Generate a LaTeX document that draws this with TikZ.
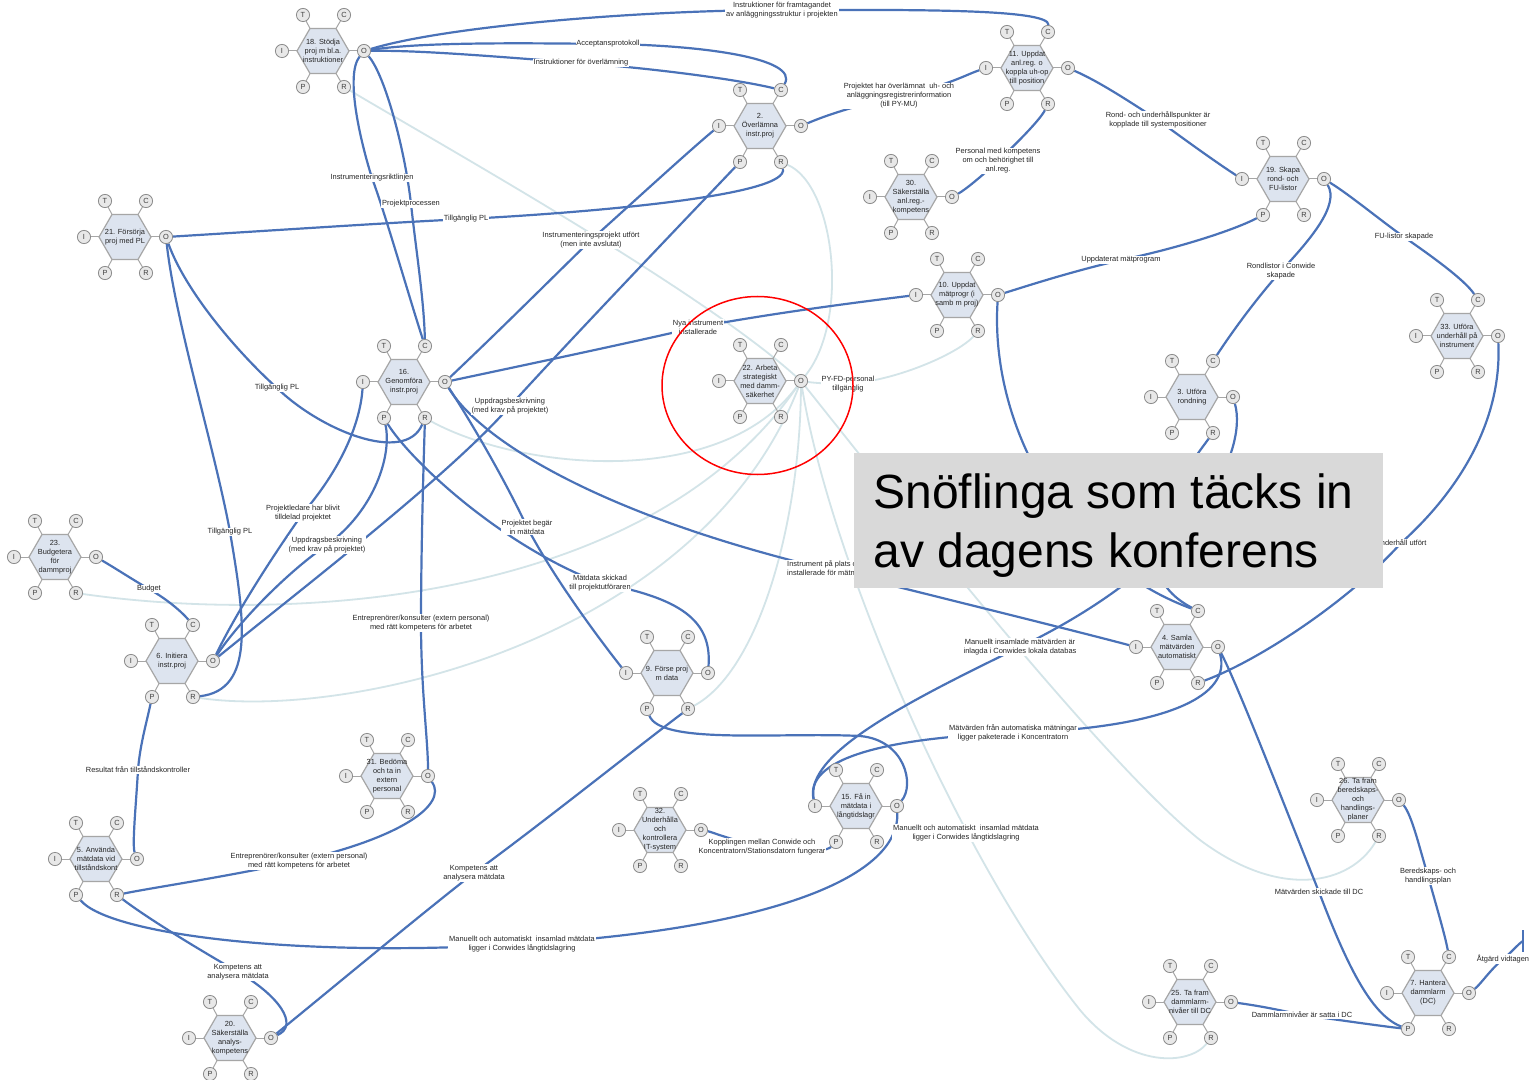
\documentclass[tikz,border=0pt]{standalone}
\usepackage{fontspec}
\setmainfont{Liberation Sans}
\usetikzlibrary{calc}

\definecolor{linkblue}{HTML}{4A72B8}
\definecolor{faintcol}{HTML}{D3E4E8}
\definecolor{hexfill}{HTML}{DDE4EF}
\definecolor{hexdraw}{HTML}{A6A6A6}
\definecolor{aspfill}{HTML}{E8E8E8}
\definecolor{aspdraw}{HTML}{8C8C8C}
\definecolor{txt}{HTML}{262626}
\definecolor{boxgray}{HTML}{D9D9D9}

\pgfdeclarelayer{paper}
\pgfdeclarelayer{faint}
\pgfdeclarelayer{links}
\pgfdeclarelayer{top}
\pgfsetlayers{paper,faint,links,main,top}

\tikzset{
  hexline/.style={draw=hexdraw, fill=hexfill, line width=0.6pt, line join=round},
  hextext/.style={font=\fontsize{3.7}{4.5}\selectfont, align=center, text=txt, inner sep=0pt},
  asp/.style={circle, draw=aspdraw, fill=aspfill, line width=0.4pt, minimum size=6.6pt,
              inner sep=0pt, font=\fontsize{3.7}{4}\selectfont, text=black!75},
  stub/.style={draw=hexdraw, line width=0.5pt},
  lab/.style={font=\fontsize{3.73}{4.5}\selectfont, align=center, text=txt, fill=white, inner sep=0.4pt},
  link/.style={draw=linkblue, line width=1.1pt},
  faintline/.style={draw=faintcol, line width=0.9pt},
  bigtext/.style={anchor=base west, inner sep=0pt, font=\fontsize{24}{29}\selectfont, text=black},
}

% one process: hexagon with its six aspect circles T, C, I, O, P, R
\newcommand\flake[4]{%
  \draw[hexline] (#2-26,#3) -- (#2-13,#3-22.5) -- (#2+13,#3-22.5) -- (#2+26,#3)
                 -- (#2+13,#3+22.5) -- (#2-13,#3+22.5) -- cycle;
  \node[hextext] (#1) at (#2,#3) {#4};
  \node[asp] (#1-T) at (#2-20,#3-36) {T};
  \node[asp] (#1-C) at (#2+21,#3-36) {C};
  \node[asp] (#1-I) at (#2-41,#3) {I};
  \node[asp] (#1-O) at (#2+41,#3) {O};
  \node[asp] (#1-P) at (#2-20,#3+36) {P};
  \node[asp] (#1-R) at (#2+21,#3+36) {R};
  \draw[stub] (#2-26,#3) -- (#1-I);
  \draw[stub] (#2+26,#3) -- (#1-O);
  \draw[stub] (#2-13,#3-22.5) -- (#1-T);
  \draw[stub] (#2+13,#3-22.5) -- (#1-C);
  \draw[stub] (#2-13,#3+22.5) -- (#1-P);
  \draw[stub] (#2+13,#3+22.5) -- (#1-R);
}

\begin{document}
\begin{tikzpicture}[x=0.5pt,y=-0.5pt]
\begin{pgfonlayer}{paper}
  \fill[white] (0,0) rectangle (1530,1080);
\end{pgfonlayer}
\useasboundingbox (0,0) rectangle (1530,1080);

% ---------- processes ----------
\flake{n18}{323}{51}{18. Stödja\\proj m bl.a.\\instruktioner}
\flake{n21}{125}{237}{21. Försörja\\proj med PL}
\flake{n2}{760}{126}{2.\\Överlämna\\instr.proj}
\flake{n11}{1027}{68}{11. Uppdat\\anl.reg. o\\koppla uh-op\\till position}
\flake{n30}{911}{197}{30.\\Säkerställa\\anl.reg.-\\kompetens}
\flake{n10}{957}{295}{10. Uppdat\\mätprogr (i\\samb m proj)}
\flake{n19}{1283}{179}{19. Skapa\\rond- och\\FU-listor}
\flake{n33}{1457}{336}{33. Utföra\\underhåll på\\instrument}
\flake{n16}{404}{382}{16.\\Genomföra\\instr.proj}
\flake{n22}{760}{381}{22. Arbeta\\strategiskt\\med damm-\\säkerhet}
\flake{n3}{1192}{397}{3. Utföra\\rondning}
\flake{n23}{55}{557}{23.\\Budgetera\\för\\dammproj}
\flake{n6}{172}{661}{6. Initiera\\instr.proj}
\flake{n9}{667}{673}{9. Förse proj\\m data}
\flake{n4}{1177}{647}{4. Samla\\mätvärden\\automatiskt}
\flake{n31}{387}{776}{31. Bedöma\\och ta in\\extern\\personal}
\flake{n5}{96}{859}{5. Använda\\mätdata vid\\tillståndskont}
\flake{n15}{856}{806}{15. Få in\\mätdata i\\långtidslagr}
\flake{n32}{660}{830}{32.\\Underhålla\\och\\kontrollera\\IT-system}
\flake{n20}{230}{1038}{20.\\Säkerställa\\analys-\\kompetens}
\flake{n26}{1358}{800}{26. Ta fram\\beredskaps-\\och\\handlings-\\planer}
\flake{n25}{1190}{1002}{25. Ta fram\\dammlarm-\\nivåer till DC}
\flake{n7}{1428}{993}{7. Hantera\\dammlarm\\(DC)}

% ---------- flow labels ----------
\node[lab] (l1) at (782,10) {Instruktioner för framtagandet\\av anläggningsstruktur i projekten};
\node[lab] (l2) at (608,44) {Acceptansprotokoll};
\node[lab] (l3) at (581,63) {Instruktioner för överlämning};
\node[lab] (l4) at (372,178) {Instrumenteringsriktlinjen};
\node[lab] (l5) at (411,204) {Projektprocessen};
\node[lab] (l6) at (466,219) {Tillgänglig PL};
\node[lab] (l7) at (899,96) {Projektet har överlämnat\ \ uh- och\\anläggningsregistrerinformation\\(till PY-MU)};
\node[lab] (l8) at (998,161) {Personal med kompetens\\om och behörighet till\\anl.reg.};
\node[lab] (l9) at (1158,120) {Rond- och underhållspunkter är\\kopplade till systempositioner};
\node[lab] (l10) at (1121,260) {Uppdaterat mätprogram};
\node[lab] (l11) at (1404,237) {FU-listor skapade};
\node[lab] (l12) at (1281,271) {Rondlistor i Conwide\\skapade};
\node[lab] (l13) at (591,240) {Instrumenteringsprojekt utfört\\(men inte avslutat)};
\node[lab] (l14) at (698,327) {Nya instrument\\installerade};
\node[lab] (l15) at (510,406) {Uppdragsbeskrivning\\(med krav på projektet)};
\node[lab] (l16) at (848,384) {PY-FD-personal\\tillgänglig};
\node[lab] (l17) at (277,388) {Tillgänglig PL};
\node[lab] (l18) at (230,532) {Tillgänglig PL};
\node[lab] (l19) at (303,513) {Projektledare har blivit\\tilldelad projektet};
\node[lab] (l20) at (327,545) {Uppdragsbeskrivning\\(med krav på projektet)};
\node[lab] (l21) at (149,589) {Budget};
\node[lab] (l22) at (527,527) {Projektet begär\\in mätdata};
\node[lab] (l23) at (600,583) {Mätdata skickad\\till projektutföraren};
\node[lab] (l24) at (421,623) {Entreprenörer/konsulter (extern personal)\\med rätt kompetens för arbetet};
\node[lab] (l25) at (826,569) {Instrument på plats och\\installerade för mätning};
\node[lab] (l26) at (1020,647) {Manuellt insamlade mätvärden är\\inlagda i Conwides lokala databas};
\node[lab] (l27) at (1013,733) {Mätvärden från automatiska mätningar\\ligger paketerade i Koncentratorn};
\node[lab] (l28) at (966,833) {Manuellt och automatiskt\ \ insamlad mätdata\\ligger i Conwides långtidslagring};
\node[lab] (l29) at (138,770) {Resultat från tillståndskontroller};
\node[lab] (l30) at (299,861) {Entreprenörer/konsulter (extern personal)\\med rätt kompetens för arbetet};
\node[lab] (l31) at (238,972) {Kompetens att\\analysera mätdata};
\node[lab] (l32) at (474,873) {Kompetens att\\analysera mätdata};
\node[lab] (l33) at (522,944) {Manuellt och automatiskt\ \ insamlad mätdata\\ligger i Conwides långtidslagring};
\node[lab] (l34) at (762,847) {Kopplingen mellan Conwide och\\Koncentratorn/Stationsdatorn fungerar};
\node[lab] (l35) at (1319,892) {Mätvärden skickade till DC};
\node[lab] (l36) at (1428,876) {Beredskaps- och\\handlingsplan};
\node[lab] (l37) at (1302,1015) {Dammlarmnivåer är satta i DC};
\node[lab] (l38) at (1503,959) {Åtgärd vidtagen};
\node[lab] (l39) at (1401,543) {Underhåll utfört};
\coordinate (atg) at (1523,941);

% ---------- flows ----------
\begin{pgfonlayer}{links}
\draw[link] (n18-O) .. controls (450,25) and (650,10) .. (l1.center) .. controls (900,10) and (1050,8) .. (n11-C);
\draw[link] (n18-O) .. controls (420,42) and (520,43) .. (l2.center) .. controls (700,45) and (800,58) .. (n2-C);
\draw[link] (n18-O) .. controls (420,50) and (500,57) .. (l3.center) .. controls (660,69) and (740,80) .. (n2-C);
\draw[link] (n18-O) .. controls (345,75) and (360,140) .. (l4.center) .. controls (386,216) and (410,300) .. (n16-C);
\draw[link] (n18-O) .. controls (385,75) and (405,150) .. (l5.center) .. controls (416,250) and (424,300) .. (n16-C);
\draw[link] (n21-O) .. controls (280,230) and (400,222) .. (l6.center) .. controls (600,212) and (790,195) .. (n2-R);
\draw[link] (n2-O) .. controls (820,118) and (845,108) .. (l7.center) .. controls (950,85) and (965,75) .. (n11-I);
\draw[link] (n11-O) .. controls (1100,82) and (1130,102) .. (l9.center) .. controls (1185,140) and (1220,165) .. (n19-I);
\draw[link] (n30-O) .. controls (965,190) and (982,176) .. (l8.center) .. controls (1015,145) and (1040,120) .. (n11-R);
\draw[link] (n10-O) .. controls (1030,285) and (1070,272) .. (l10.center) .. controls (1170,250) and (1230,232) .. (n19-P);
\draw[link] (n19-O) .. controls (1350,195) and (1380,220) .. (l11.center) .. controls (1430,255) and (1465,280) .. (n33-C);
\draw[link] (n19-O) .. controls (1340,205) and (1310,240) .. (l12.center) .. controls (1255,300) and (1230,335) .. (n3-C);
\draw[link] (n16-O) .. controls (520,366) and (620,345) .. (l14.center) .. controls (780,312) and (860,302) .. (n10-I);
\draw[link] (n16-O) .. controls (500,330) and (550,280) .. (l13.center) .. controls (630,205) and (690,150) .. (n2-I);
\draw[link] (n2-P) .. controls (680,225) and (570,340) .. (l15.center) .. controls (450,475) and (300,590) .. (n6-O);
\draw[link] (n16-I) .. controls (360,425) and (340,470) .. (l19.center) .. controls (270,560) and (235,615) .. (n6-O);
\draw[link] (n16-P) .. controls (392,455) and (375,510) .. (l20.center) .. controls (290,570) and (240,620) .. (n6-O);
\draw[link] (n21-O) .. controls (185,290) and (235,350) .. (l17.center) .. controls (320,430) and (405,465) .. (n16-R);
\draw[link] (n21-O) .. controls (175,320) and (215,450) .. (l18.center) .. controls (245,620) and (255,690) .. (n6-R);
\draw[link] (n23-O) .. controls (115,568) and (130,578) .. (l21.center) .. controls (165,598) and (180,610) .. (n6-C);
\draw[link] (n16-P) .. controls (410,460) and (500,545) .. (l23.center) .. controls (680,598) and (712,620) .. (n9-O);
\draw[link] (n16-O) .. controls (470,420) and (505,480) .. (l22.center) .. controls (555,580) and (600,640) .. (n9-I);
\draw[link] (n16-O) .. controls (480,440) and (600,515) .. (l25.center) .. controls (950,600) and (1080,632) .. (n4-I);
\draw[link] (n16-R) .. controls (423,480) and (421,560) .. (l24.center) .. controls (421,690) and (428,740) .. (n31-O);
\draw[link] (n31-O) .. controls (448,805) and (400,838) .. (l30.center) .. controls (220,878) and (150,888) .. (n5-R);
\draw[link] (n6-P) .. controls (146,725) and (140,745) .. (l29.center) .. controls (136,805) and (132,845) .. (n5-O);
\draw[link] (n5-R) .. controls (150,920) and (200,950) .. (l31.center) .. controls (278,995) and (300,1025) .. (n20-O);
\draw[link] (n20-O) .. controls (330,990) and (420,915) .. (l32.center) .. controls (540,825) and (640,745) .. (n9-R);
\draw[link] (n5-P) .. controls (110,935) and (300,958) .. (l33.center) .. controls (760,930) and (900,880) .. (n15-O);
\draw[link] (n9-P) .. controls (660,745) and (780,732) .. (860,736) .. controls (905,740) and (915,785) .. (n15-O);
\draw[link] (n4-O) .. controls (1232,695) and (1170,728) .. (l27.center) .. controls (880,738) and (805,760) .. (n15-I);
\draw[link] (n3-O) .. controls (1248,450) and (1200,560) .. (l26.center) .. controls (900,705) and (805,755) .. (n15-I);
\draw[link] (n10-O) .. controls (990,420) and (1060,560) .. (n4-C);
\draw[link] (n3-R) .. controls (1170,490) and (1120,570) .. (n4-C);
\draw[link] (n33-O) .. controls (1502,420) and (1460,490) .. (l39.center) .. controls (1350,600) and (1260,660) .. (n4-R);
\draw[link] (n4-O) .. controls (1240,690) and (1290,820) .. (l35.center) .. controls (1345,960) and (1370,1015) .. (n7-P);
\draw[link] (n26-O) .. controls (1412,815) and (1420,850) .. (l36.center) .. controls (1436,905) and (1445,935) .. (n7-C);
\draw[link] (n25-O) .. controls (1260,1006) and (1280,1010) .. (l37.center) .. controls (1340,1020) and (1380,1026) .. (n7-P);
\draw[link] (n7-O) .. controls (1480,985) and (1490,970) .. (l38.center) .. controls (1512,952) and (1518,944) .. (atg);
\draw[link] ([yshift=5.5pt]atg) -- ([yshift=-5.5pt]atg);
\draw[link] (n32-O) .. controls (712,832) and (725,838) .. (l34.center) .. controls (810,855) and (828,850) .. (n15-P);
\end{pgfonlayer}

% ---------- faint resource lines from process 22 ----------
\begin{pgfonlayer}{faint}
\draw[faintline] (n18-R) .. controls (450,150) and (700,290) .. (n22-O);
\draw[faintline] (n2-R) .. controls (835,185) and (850,320) .. (n22-O);
\draw[faintline] (n22-O) .. controls (815,383) and (830,384) .. (l16.center) .. controls (900,380) and (960,352) .. (n10-R);
\draw[faintline] (n16-R) .. controls (520,470) and (720,490) .. (n22-O);
\draw[faintline] (n23-R) .. controls (300,625) and (650,600) .. (n22-O);
\draw[faintline] (n6-R) .. controls (350,720) and (700,640) .. (n22-O);
\draw[faintline] (n9-R) .. controls (760,670) and (800,520) .. (n22-O);
\draw[faintline] (n22-O) .. controls (830,560) and (960,860) .. (1080,1010) .. controls (1130,1070) and (1190,1065) .. (n25-R);
\draw[faintline] (n22-O) .. controls (880,480) and (1100,760) .. (1200,840) .. controls (1280,900) and (1350,885) .. (n26-R);
\end{pgfonlayer}

% ---------- overlay: caption box and highlight ring ----------
\begin{pgfonlayer}{top}
\fill[boxgray] (854,453) rectangle (1383,588);
\node[bigtext] (bx1) at (873,508) {Snöflinga som täcks in};
\node[bigtext] (bx2) at (873,567) {av dagens konferens};
\draw[red, line width=0.75pt] (757.5,385.5) ellipse [x radius=47.75pt, y radius=44.5pt];
\end{pgfonlayer}
\end{tikzpicture}
\end{document}
